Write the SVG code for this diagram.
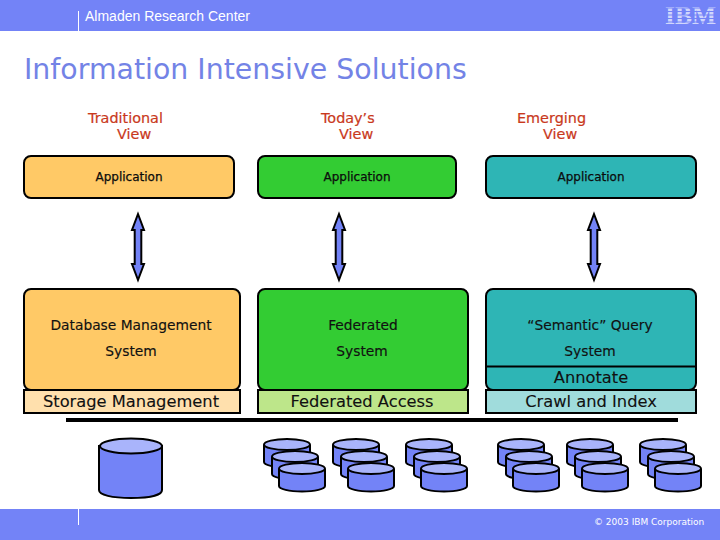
<svg xmlns="http://www.w3.org/2000/svg" width="720" height="540" viewBox="0 0 720 540">
<style>
text{font-family:"DejaVu Sans",Verdana,sans-serif;fill:#111}
.c{text-anchor:middle}
.hd{font-size:14.400px;fill:#c9391c;stroke:#c9391c;stroke-width:.2px}
.app{font-size:12px;stroke:#000;stroke-width:.25px}
.mid{font-size:13.800px;stroke:#111;stroke-width:.15px}
.low{font-size:16.300px;stroke:#111;stroke-width:.1px}
.box{stroke:#000;stroke-width:2}
.line{stroke:#000;stroke-width:2;fill:#7383f7}
.top{fill:#a9b4fb}
</style>
<defs>
<g id="cyl"><path class="line" d="M1 7V24C1 27 11 29.500 24 29.500S47 27 47 24V7"/><ellipse class="line top" cx="24" cy="6.500" rx="23" ry="5.500"/></g>
<g id="stack"><use href="#cyl" x="0" y="0"/><use href="#cyl" x="8" y="12"/><use href="#cyl" x="15" y="24"/></g>
<path id="arrow" class="line" d="M0 -33L6 -17H3.300V17H6L0 33L-6 17H-3.300V-17H-6Z"/>
</defs>
<rect width="720" height="31" fill="#7383f7"/>
<rect y="509" width="720" height="31" fill="#7383f7"/>
<path d="M78.500 11V31M78.500 509V525" stroke="#fff" stroke-width="1"/>
<text x="85" y="21" style="font-family:'Liberation Sans',Arial,sans-serif;font-size:14px;fill:#fff">Almaden Research Center</text>
<text x="665" y="24" textLength="51" lengthAdjust="spacingAndGlyphs" style="font-family:'Liberation Serif',serif;font-size:26px;font-weight:bold;fill:#d0d6fc">IBM</text>
<path d="M664 8H718M664 11.500H718M664 15H718M664 18.500H718M664 22H718" stroke="#7383f7" stroke-width="1"/>
<text x="594" y="525" style="font-size:9px;fill:#fff">© 2003 IBM Corporation</text>
<text x="24" y="79" style="font-size:28.400px;fill:#7383e6">Information Intensive Solutions</text>

<g id="header-traditional"><text class="hd" x="88" y="123">Traditional</text><text class="hd" x="117" y="139">View</text></g>
<g id="header-today"><text class="hd" x="321" y="123">Today’s</text><text class="hd" x="339" y="139">View</text></g>
<g id="header-emerging"><text class="hd" x="517" y="123">Emerging</text><text class="hd" x="543" y="139">View</text></g>

<g id="app-traditional"><rect class="box" x="24" y="156" width="210" height="42" rx="7" fill="#ffc966"/><text class="app c" x="129" y="181">Application</text></g>
<g id="app-today"><rect class="box" x="258" y="156" width="198" height="42" rx="7" fill="#33cc33"/><text class="app c" x="357" y="181">Application</text></g>
<g id="app-emerging"><rect class="box" x="486" y="156" width="210" height="42" rx="7" fill="#2eb5b5"/><text class="app c" x="591" y="181">Application</text></g>

<g id="connectors"><use href="#arrow" x="138" y="247"/><use href="#arrow" x="339" y="247"/><use href="#arrow" x="594" y="247"/></g>

<g id="db-traditional"><rect class="box" x="24" y="289" width="216" height="101" rx="7" fill="#ffc966"/><text class="mid c" x="131" y="330">Database Management</text><text class="mid c" x="131" y="356">System</text></g>
<g id="storage"><rect class="box" x="24" y="390" width="216" height="23" fill="#ffe0ad"/><text class="low c" x="131" y="407">Storage Management</text></g>

<g id="db-today"><rect class="box" x="258" y="289" width="210" height="101" rx="7" fill="#33cc33"/><text class="mid c" x="363" y="330">Federated</text><text class="mid c" x="362" y="356">System</text></g>
<g id="federated-access"><rect class="box" x="258" y="390" width="210" height="23" fill="#bde68a"/><text class="low c" x="362" y="407">Federated Access</text></g>

<g id="db-emerging"><rect class="box" x="486" y="289" width="210" height="101" rx="7" fill="#2eb5b5"/><text class="mid c" x="590" y="330">“Semantic” Query</text><text class="mid c" x="590" y="356">System</text></g>
<g id="annotate"><path d="M486 366.500H696" stroke="#000" stroke-width="2"/><text class="low c" x="591" y="383">Annotate</text></g>
<g id="crawl"><rect class="box" x="486" y="390" width="210" height="23" fill="#a0dcdc"/><text class="low c" x="591" y="407">Crawl and Index</text></g>

<rect id="bus" x="66" y="418" width="612" height="4" fill="#000"/>

<g id="disk-single"><path class="line" d="M99 445V490C99 495 112 498 131 498S162 495 162 490V445"/><ellipse class="line top" cx="131" cy="446" rx="31" ry="7.500"/></g>
<g id="disks-1"><use href="#stack" x="263" y="438"/></g>
<g id="disks-2"><use href="#stack" x="332" y="438"/></g>
<g id="disks-3"><use href="#stack" x="405" y="438"/></g>
<g id="disks-4"><use href="#stack" x="497" y="438"/></g>
<g id="disks-5"><use href="#stack" x="566" y="438"/></g>
<g id="disks-6"><use href="#stack" x="639" y="438"/></g>
</svg>
